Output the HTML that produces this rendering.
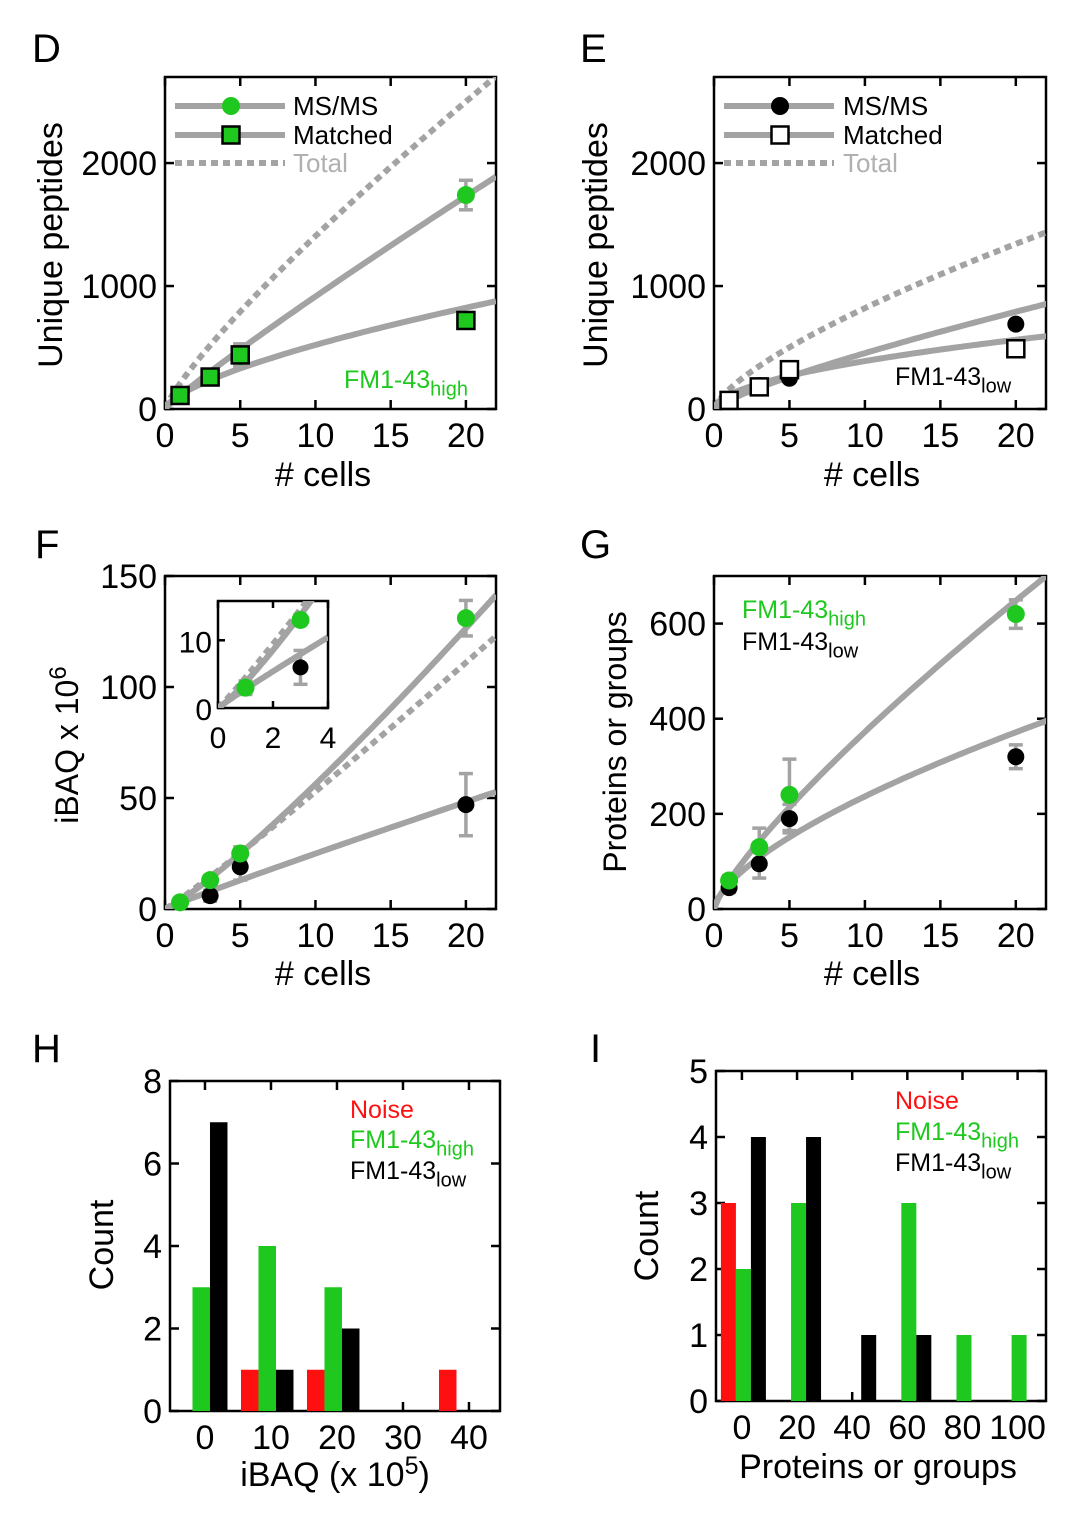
<!DOCTYPE html>
<html><head><meta charset="utf-8"><style>
html,body{margin:0;padding:0;background:#fff;}
svg{display:block;font-family:"Liberation Sans",Arial,sans-serif;}
</style></head><body>
<svg id="fig" width="1080" height="1521" viewBox="0 0 1080 1521" xmlns="http://www.w3.org/2000/svg">
<defs>
<clipPath id="cD"><rect x="165" y="77" width="331" height="332"/></clipPath>
<clipPath id="cE"><rect x="714" y="77" width="332" height="332"/></clipPath>
<clipPath id="cF"><rect x="165" y="576" width="331" height="333"/></clipPath>
<clipPath id="cFi"><rect x="218" y="601" width="110" height="107"/></clipPath>
<clipPath id="cG"><rect x="714" y="576" width="332" height="333"/></clipPath>
</defs>
<g font-size="40">
<text x="32" y="62">D</text>
<text x="580" y="62">E</text>
<text x="35" y="558">F</text>
<text x="580" y="558">G</text>
<text x="32" y="1062">H</text>
<text x="590" y="1062">I</text>
</g>
</svg>
<script>
// ---------- data ----------
const cellsX = [1, 3, 5, 20];
// Panel D (FM1-43 high)
const dMsms = [110, 260, 430, 1740];
const dMsmsErr = [20, 40, 90, 120];
const dMatched = [110, 260, 440, 720];
const dMatchedErr = [20, 40, 90, 40];
const dFitMsms = [110, 0.92];
const dFitMatched = [114, 0.66];
const dFitTotal = [208, 0.83];
// Panel E (FM1-43 low)
const eMsms = [60, 190, 250, 690];
const eMatched = [70, 180, 320, 490];
const eFitMsms = [72, 0.80];
const eFitMatched = [115, 0.53];
const eFitTotal = [160, 0.71];
// Panel F (iBAQ)
const fHigh = [3, 13, 25, 131];
const fHighErr = [1, 2, 3, 8];
const fLow = [3, 6, 19, 47];
const fLowErr = [1, 2.5, 6, 14];
const fFitHigh = [3.8, 1.17];
const fFitTotal = [4.5, 1.07];
const fFitLow = [2.8, 0.95];
// Panel G (proteins)
const gHigh = [60, 130, 240, 620];
const gHighErr = [10, 40, 75, 30];
const gLow = [45, 95, 190, 320];
const gLowErr = [10, 30, 30, 25];
const gFitHigh = [59, 0.80];
const gFitLow = [53, 0.65];
// Panel H histogram
const hBins = [0, 10, 20, 30, 40];
const hNoise = [0, 1, 1, 0, 1];
const hHigh = [3, 4, 3, 0, 0];
const hLow = [7, 1, 2, 0, 0];
// Panel I histogram
const iBins = [0, 20, 40, 60, 80, 100];
const iNoise = [3, 0, 0, 0, 0, 0];
const iHigh = [2, 3, 0, 3, 1, 1];
const iLow = [4, 4, 1, 1, 0, 0];
// ticks
const cellTicks = [0, 5, 10, 15, 20];
const pepTicks = [0, 1000, 2000];
const ibaqTicks = [0, 50, 100, 150];
const insetXTicks = [0, 2, 4];
const insetYTicks = [0, 10];
const protTicks = [0, 200, 400, 600];
const hXTicks = [0, 10, 20, 30, 40];
const hYTicks = [0, 2, 4, 6, 8];
const iXTicks = [0, 20, 40, 60, 80, 100];
const iYTicks = [0, 1, 2, 3, 4, 5];

// ---------- helpers ----------
const NS = "http://www.w3.org/2000/svg";
const svg = document.getElementById("fig");
const GREY = "#a3a3a3", GREEN = "#1fc81f", RED = "#ff1010";
function mk(tag, attrs, parent) {
  const el = document.createElementNS(NS, tag);
  for (const k in attrs) el.setAttribute(k, attrs[k]);
  (parent || svg).appendChild(el);
  return el;
}
function txt(x, y, s, size, anchor, fill, parent) {
  const t = mk("text", {x: x, y: y, "font-size": size, "text-anchor": anchor || "start", fill: fill || "#000"}, parent);
  t.textContent = s;
  return t;
}
function subTxt(x, y, main, sub, size, fill, parent) {
  const t = mk("text", {x: x, y: y, "font-size": size, fill: fill}, parent);
  t.textContent = main;
  const ts = document.createElementNS(NS, "tspan");
  ts.setAttribute("dy", size * 0.3);
  ts.setAttribute("font-size", size * 0.8);
  ts.textContent = sub;
  t.appendChild(ts);
  return t;
}
function makeAxes(c) {
  const sx = v => c.L + (v - c.xmin) / (c.xmax - c.xmin) * (c.R - c.L);
  const sy = v => c.B - (v - c.ymin) / (c.ymax - c.ymin) * (c.B - c.T);
  const g = mk("g", {});
  
  
  const tl = c.tickLen || 9;
  c.xticks.forEach(v => {
    const x = sx(v);
    mk("line", {x1: x, x2: x, y1: c.B, y2: c.B - tl, stroke: "#000", "stroke-width": 2.5}, g);
    mk("line", {x1: x, x2: x, y1: c.T, y2: c.T + tl, stroke: "#000", "stroke-width": 2.5}, g);
    const t = txt(x, c.B + (c.xlabOff || 38), String(v), c.fs || 34, "middle", "#000", g);
    
    
  });
  c.yticks.forEach(v => {
    const y = sy(v);
    mk("line", {x1: c.L, x2: c.L + tl, y1: y, y2: y, stroke: "#000", "stroke-width": 2.5}, g);
    mk("line", {x1: c.R, x2: c.R - tl, y1: y, y2: y, stroke: "#000", "stroke-width": 2.5}, g);
    const t = txt(c.L - (c.ylabOff || 8), y + 12, String(v), c.fs || 34, "end", "#000", g);
    
    
  });
  const fr = mk("rect", {x: c.L, y: c.T, width: c.R - c.L, height: c.B - c.T, fill: "none", stroke: "#000", "stroke-width": 2.5}, g);
  
  
  return {sx: sx, sy: sy, c: c};
}
function fitCurve(ax, fit, xmax, dashed, clip, name) {
  let d = "";
  for (let i = 0; i <= 80; i++) {
    const x = xmax * i / 80;
    const y = fit[0] * Math.pow(x, fit[1]);
    d += (i ? "L" : "M") + ax.sx(x).toFixed(1) + "," + ax.sy(y).toFixed(1);
  }
  const p = mk("path", {d: d, fill: "none", stroke: GREY, "stroke-width": 6, "stroke-dasharray": dashed ? "7 5" : "none", "clip-path": "url(#" + clip + ")"});
  
  
}
function errBars(ax, xs, ys, es, name) {
  xs.forEach((x, i) => {
    const px = ax.sx(x), y1 = ax.sy(ys[i] - es[i]), y2 = ax.sy(ys[i] + es[i]);
    const g = mk("g", {stroke: GREY, "stroke-width": 3.5});
    
    
    mk("line", {x1: px, x2: px, y1: y1, y2: y2}, g);
    mk("line", {x1: px - 7, x2: px + 7, y1: y1, y2: y1}, g);
    mk("line", {x1: px - 7, x2: px + 7, y1: y2, y2: y2}, g);
  });
}
function circles(ax, xs, ys, fill, r, name) {
  xs.forEach((x, i) => {
    const c = mk("circle", {cx: ax.sx(x), cy: ax.sy(ys[i]), r: r, fill: fill});
    
    
  });
}
function squares(ax, xs, ys, fill, name) {
  xs.forEach((x, i) => {
    const s = mk("rect", {x: ax.sx(x) - 8.5, y: ax.sy(ys[i]) - 8.5, width: 17, height: 17, fill: fill, stroke: "#000", "stroke-width": 2.5});
    
    
  });
}
function rotLabel(x, y, s, size, name) {
  const t = mk("text", {x: 0, y: 0, "font-size": size, "text-anchor": "middle", transform: "translate(" + x + "," + y + ") rotate(-90)"});
  t.textContent = s;
  
  
  return t;
}
function legendRow(x1, x2, y, dashed, name) {
  const l = mk("line", {x1: x1, x2: x2, y1: y, y2: y, stroke: GREY, "stroke-width": 6, "stroke-dasharray": dashed ? "7 5" : "none"});
  
  
}

// ---------- Panel D ----------
const axD = makeAxes({name: "panel-d", L: 165, R: 496, T: 77, B: 409, xmin: 0, xmax: 22, ymin: 0, ymax: 2700, xticks: cellTicks, yticks: pepTicks});
fitCurve(axD, dFitTotal, 22, true, "cD", "d-total-fit");
fitCurve(axD, dFitMsms, 22, false, "cD", "d-msms-fit");
fitCurve(axD, dFitMatched, 22, false, "cD", "d-matched-fit");
errBars(axD, cellsX, dMsms, dMsmsErr, "d-msms-error");
errBars(axD, cellsX, dMatched, dMatchedErr, "d-matched-error");
circles(axD, cellsX, dMsms, GREEN, 9, "d-msms-point");
squares(axD, cellsX, dMatched, GREEN, "d-matched-point");
legendRow(175, 285, 106, false, "d-legend-msms-line");
legendRow(175, 285, 135, false, "d-legend-matched-line");
legendRow(175, 285, 163, true, "d-legend-total-line");
let lg = mk("circle", {cx: 231, cy: 106, r: 9, fill: GREEN});


lg = mk("rect", {x: 222.5, y: 126.5, width: 17, height: 17, fill: GREEN, stroke: "#000", "stroke-width": 2.5});


let t = txt(293, 115, "MS/MS", 26);
 
t = txt(293, 144, "Matched", 26);
 
t = txt(293, 172, "Total", 26, "start", "#b0b0b0");
 
t = subTxt(344, 388, "FM1-43", "high", 25, GREEN);
 
rotLabel(62, 245, "Unique peptides", 34, "d-y-axis-title");
t = txt(323, 486, "# cells", 34, "middle");
 

// ---------- Panel E ----------
const axE = makeAxes({name: "panel-e", L: 714, R: 1046, T: 77, B: 409, xmin: 0, xmax: 22, ymin: 0, ymax: 2700, xticks: cellTicks, yticks: pepTicks});
fitCurve(axE, eFitTotal, 22.2, true, "cE", "e-total-fit");
fitCurve(axE, eFitMsms, 22.2, false, "cE", "e-msms-fit");
fitCurve(axE, eFitMatched, 22.2, false, "cE", "e-matched-fit");
circles(axE, cellsX, eMsms, "#000", 8.5, "e-msms-point");
squares(axE, cellsX, eMatched, "#fff", "e-matched-point");
legendRow(724, 834, 106, false, "e-legend-msms-line");
legendRow(724, 834, 135, false, "e-legend-matched-line");
legendRow(724, 834, 163, true, "e-legend-total-line");
lg = mk("circle", {cx: 780, cy: 106, r: 9, fill: "#000"});


lg = mk("rect", {x: 771.5, y: 126.5, width: 17, height: 17, fill: "#fff", stroke: "#000", "stroke-width": 2.5});


t = txt(843, 115, "MS/MS", 26);
 
t = txt(843, 144, "Matched", 26);
 
t = txt(843, 172, "Total", 26, "start", "#b0b0b0");
 
t = subTxt(895, 385, "FM1-43", "low", 25, "#000");
 
rotLabel(607, 245, "Unique peptides", 34, "e-y-axis-title");
t = txt(872, 486, "# cells", 34, "middle");
 

// ---------- Panel F ----------
const axF = makeAxes({name: "panel-f", L: 165, R: 496, T: 576, B: 909, xmin: 0, xmax: 22, ymin: 0, ymax: 150, xticks: cellTicks, yticks: ibaqTicks});
fitCurve(axF, fFitTotal, 22, true, "cF", "f-total-fit");
fitCurve(axF, fFitHigh, 22, false, "cF", "f-high-fit");
fitCurve(axF, fFitLow, 22, false, "cF", "f-low-fit");
errBars(axF, cellsX, fLow, fLowErr, "f-low-error");
errBars(axF, cellsX, fHigh, fHighErr, "f-high-error");
circles(axF, cellsX, fLow, "#000", 8.5, "f-low-point");
circles(axF, cellsX, fHigh, GREEN, 9, "f-high-point");
const insX = cellsX.slice(0, 2);
const axFi = makeAxes({name: "panel-f-inset", L: 218, R: 328, T: 601, B: 708, xmin: 0, xmax: 4, ymin: 0, ymax: 15.8, xticks: insetXTicks, yticks: insetYTicks, fs: 30, tickLen: 7, xlabOff: 40, ylabOff: 6});
fitCurve(axFi, fFitTotal, 4, true, "cFi", "f-inset-total-fit");
fitCurve(axFi, fFitHigh, 4, false, "cFi", "f-inset-high-fit");
fitCurve(axFi, fFitLow, 4, false, "cFi", "f-inset-low-fit");
errBars(axFi, insX, fLow.slice(0, 2), fLowErr.slice(0, 2), "f-inset-low-error");
circles(axFi, insX, fLow.slice(0, 2), "#000", 8, "f-inset-low-point");
circles(axFi, insX, fHigh.slice(0, 2), GREEN, 9, "f-inset-high-point");
t = mk("text", {x: 0, y: 0, "font-size": 32, "text-anchor": "middle", transform: "translate(78,745) rotate(-90)"});
t.textContent = "iBAQ x 10";
let sup = document.createElementNS(NS, "tspan");
sup.setAttribute("dy", -12); sup.setAttribute("font-size", 24); sup.textContent = "6";
t.appendChild(sup);
 
t = txt(323, 985, "# cells", 34, "middle");
 

// ---------- Panel G ----------
const axG = makeAxes({name: "panel-g", L: 714, R: 1046, T: 576, B: 909, xmin: 0, xmax: 22, ymin: 0, ymax: 700, xticks: cellTicks, yticks: protTicks});
fitCurve(axG, gFitHigh, 22.2, false, "cG", "g-high-fit");
fitCurve(axG, gFitLow, 22.2, false, "cG", "g-low-fit");
errBars(axG, cellsX, gLow, gLowErr, "g-low-error");
errBars(axG, cellsX, gHigh, gHighErr, "g-high-error");
circles(axG, cellsX, gLow, "#000", 8.5, "g-low-point");
circles(axG, cellsX, gHigh, GREEN, 9, "g-high-point");
t = subTxt(742, 618, "FM1-43", "high", 25, GREEN);
 
t = subTxt(742, 650, "FM1-43", "low", 25, "#000");
 
rotLabel(626, 742, "Proteins or groups", 32, "g-y-axis-title");
t = txt(872, 985, "# cells", 34, "middle");
 

// ---------- histograms ----------
function hist(ax, bins, series, colors, w, startOff, name) {
  bins.forEach((b, i) => {
    series.forEach((s, k) => {
      if (!s[i]) return;
      const x = ax.sx(b) + startOff + k * w;
      const r = mk("rect", {x: x, y: ax.sy(s[i]), width: w, height: ax.sy(0) - ax.sy(s[i]), fill: colors[k]});
      
      
    });
  });
}
const axH = makeAxes({name: "panel-h", L: 170, R: 500, T: 1081, B: 1411, xmin: -5.3, xmax: 44.7, ymin: 0, ymax: 8, xticks: hXTicks, yticks: hYTicks});
hist(axH, hBins, [hNoise, hHigh, hLow], [RED, GREEN, "#000"], 17.5, -30, "h");
t = txt(350, 1118, "Noise", 25, "start", RED);
 
t = subTxt(350, 1148, "FM1-43", "high", 25, GREEN);
 
t = subTxt(350, 1179, "FM1-43", "low", 25, "#000");
 
rotLabel(113, 1245, "Count", 34, "h-y-axis-title");
t = mk("text", {x: 335, y: 1486, "font-size": 34, "text-anchor": "middle"});
t.textContent = "iBAQ (x 10";
sup = document.createElementNS(NS, "tspan");
sup.setAttribute("dy", -12); sup.setAttribute("font-size", 25); sup.textContent = "5";
t.appendChild(sup);
let cl = document.createElementNS(NS, "tspan");
cl.setAttribute("dy", 12); cl.textContent = ")";
t.appendChild(cl);
 

const axI = makeAxes({name: "panel-i", L: 716, R: 1046, T: 1071, B: 1401, xmin: -9.4, xmax: 110.3, ymin: 0, ymax: 5, xticks: iXTicks, yticks: iYTicks});
hist(axI, iBins, [iNoise, iHigh, iLow], [RED, GREEN, "#000"], 15, -21, "i");
t = txt(895, 1109, "Noise", 25, "start", RED);
 
t = subTxt(895, 1140, "FM1-43", "high", 25, GREEN);
 
t = subTxt(895, 1171, "FM1-43", "low", 25, "#000");
 
rotLabel(658, 1236, "Count", 34, "i-y-axis-title");
t = txt(878, 1478, "Proteins or groups", 34, "middle");
 
</script>
</body></html>
